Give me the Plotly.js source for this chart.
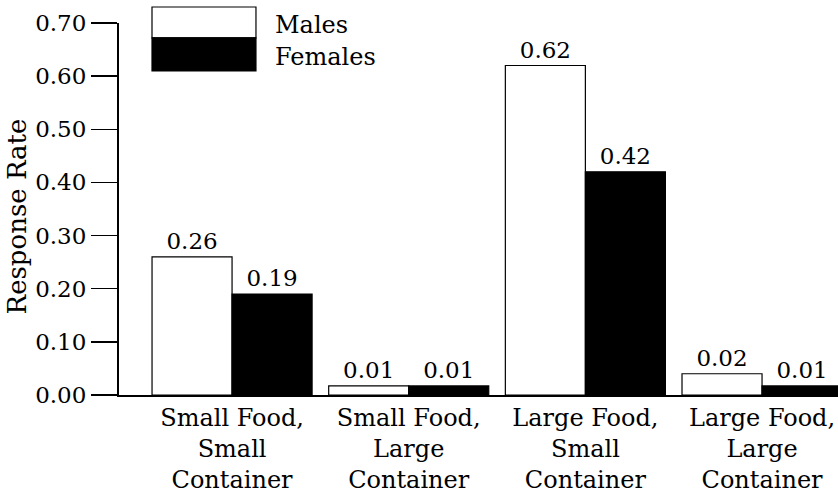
<!DOCTYPE html>
<html>
<head>
<meta charset="utf-8">
<script src="https://cdn.plot.ly/plotly-3.0.1.min.js"></script>
<style>html,body{margin:0;padding:0;background:#fff;}#chart{width:838px;height:493px;}</style>
</head>
<body>
<div id="chart"></div>
<script>
const categories = ["Small Food,<br>Small<br>Container", "Small Food,<br>Large<br>Container", "Large Food,<br>Small<br>Container", "Large Food,<br>Large<br>Container"];
const seriesNames = ["Males", "Females"];
const malesHeight = [0.26, 0.017, 0.62, 0.04];
const femalesHeight = [0.19, 0.017, 0.42, 0.017];
const malesLabels = ["0.26", "0.01", "0.62", "0.02"];
const femalesLabels = ["0.19", "0.01", "0.42", "0.01"];
const yTickVals = [0, 0.1, 0.2, 0.3, 0.4, 0.5, 0.6, 0.7];
const yTickText = ["0.00", "0.10", "0.20", "0.30", "0.40", "0.50", "0.60", "0.70"];

const FONT = "DejaVu Serif";

const traces = [
  {
    type: "bar", name: seriesNames[0], x: categories, y: malesHeight,
    text: malesLabels, textposition: "outside", cliponaxis: false,
    textfont: {family: FONT, size: 23, color: "#000"},
    marker: {color: "#fff", line: {color: "#000", width: 1.2}},
    hoverinfo: "none"
  },
  {
    type: "bar", name: seriesNames[1], x: categories, y: femalesHeight,
    text: femalesLabels, textposition: "outside", cliponaxis: false,
    textfont: {family: FONT, size: 23, color: "#000"},
    marker: {color: "#000", line: {color: "#000", width: 1.2}},
    hoverinfo: "none"
  }
];

const layout = {
  width: 838, height: 493,
  margin: {l: 119, r: 0, t: 23, b: 98, pad: 0},
  paper_bgcolor: "#fff", plot_bgcolor: "#fff",
  font: {family: FONT, color: "#000"},
  showlegend: false,
  barmode: "group", bargap: 0.094, bargroupgap: 0,
  xaxis: {
    type: "category", range: [-0.64, 3.43],
    showline: true, linecolor: "#000", linewidth: 2,
    ticks: "", showgrid: false, zeroline: false,
    tickfont: {family: FONT, size: 24, color: "#000"},
    fixedrange: true
  },
  yaxis: {
    range: [0, 0.7], tickvals: yTickVals, ticktext: yTickText,
    showline: true, linecolor: "#000", linewidth: 2,
    ticks: "outside", ticklen: 26, tickwidth: 1.5, tickcolor: "#000",
    showgrid: false, zeroline: false,
    tickfont: {family: FONT, size: 23, color: "#000"},
    fixedrange: true
  },
  shapes: [
    {type: "rect", xref: "paper", yref: "paper", x0: 0.0459, x1: 0.1905, y0: 0.960, y1: 1.043,
     fillcolor: "#fff", line: {color: "#000", width: 1.2}},
    {type: "rect", xref: "paper", yref: "paper", x0: 0.0459, x1: 0.1905, y0: 0.871, y1: 0.960,
     fillcolor: "#000", line: {color: "#000", width: 1.2}}
  ],
  annotations: [
    {xref: "paper", yref: "paper", x: 0.214, y: 0.995, xanchor: "left", yanchor: "middle",
     text: seriesNames[0], showarrow: false, font: {family: FONT, size: 24, color: "#000"}},
    {xref: "paper", yref: "paper", x: 0.214, y: 0.909, xanchor: "left", yanchor: "middle",
     text: seriesNames[1], showarrow: false, font: {family: FONT, size: 24, color: "#000"}},
    {xref: "paper", yref: "paper", x: 0, y: 0.48, xanchor: "center", yanchor: "middle", xshift: -102,
     text: "Response Rate", textangle: -90, showarrow: false, font: {family: FONT, size: 26, color: "#000"}}
  ]
};

Plotly.newPlot("chart", traces, layout, {displayModeBar: false, staticPlot: true});
</script>
</body>
</html>
